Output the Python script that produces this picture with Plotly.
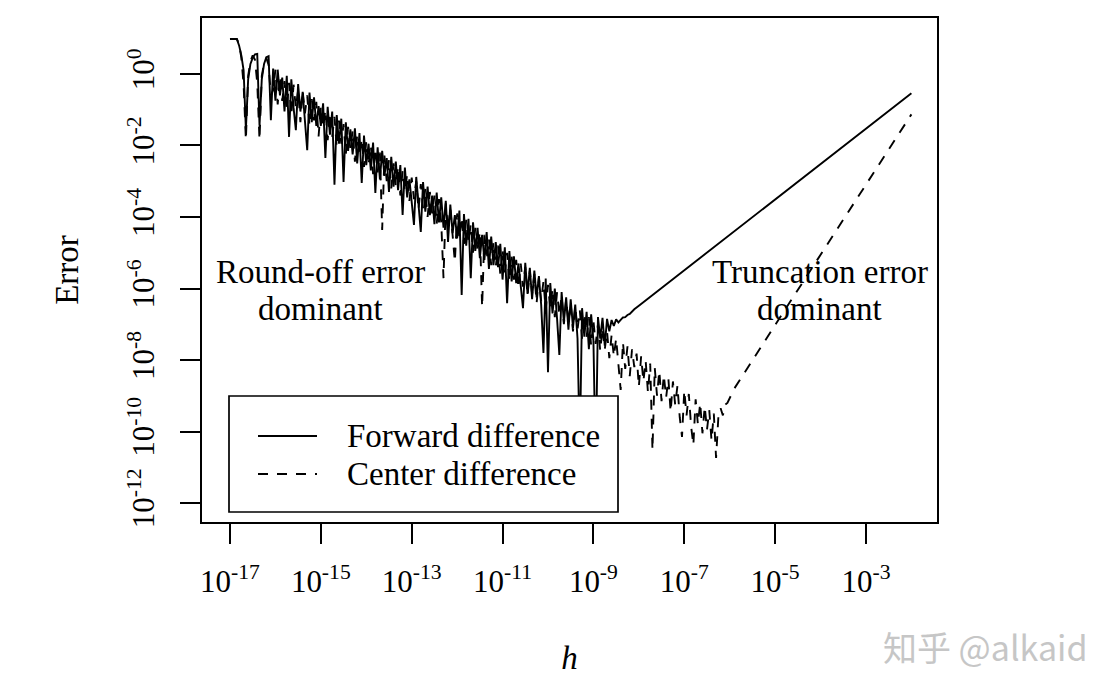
import numpy as np
import plotly.graph_objects as go

# ---------------- data (log10 values) ----------------
H_START = -17.0          # log10(h) of the first sample
H_STEP = 0.05            # log10 spacing of the sampled h values

fwd_noisy_log_err = [
    0.98, 0.98, 0.98, 0.98, 0.80, 0.52, 0.10, -1.55, -0.15, 0.28,
    0.45, 0.55, 0.56, -1.45, -0.15, 0.28, 0.47, 0.50, -1.29,
    0.15, -0.75, 0.12, -0.60, -0.10, -1.05, -0.05, -1.76, -0.15, -0.95,
    -1.57, -0.28, -1.05, -0.50, -1.20, -2.13, -0.52, -1.35, -0.65, -1.45,
    -0.90, -1.45, -0.82, -2.35, -0.92, -1.70, -1.05, -3.10, -1.15, -1.95,
    -1.25, -3.02, -1.35, -2.15, -1.55, -2.25, -1.52, -2.50, -1.65, -3.05,
    -1.72, -2.55, -1.95, -2.70, -1.92, -3.33, -2.05, -2.95, -2.15, -2.85,
    -2.35, -3.30, -2.32, -3.15, -2.45, -3.25, -2.55, -3.94, -2.62, -3.45,
    -2.95, -3.55, -4.22, -2.88, -3.70, -4.42, -3.02, -3.85, -3.15, -3.95,
    -3.40, -4.20, -3.32, -4.15, -3.45, -4.30, -3.55, -4.70, -3.65, -4.45,
    -3.95, -4.60, -3.82, -6.18, -3.92, -4.80, -4.05, -5.71, -4.15, -4.95,
    -4.30, -5.15, -4.50, -5.20, -4.42, -5.45, -4.55, -5.35, -4.70, -5.40,
    -4.75, -5.75, -4.85, -6.41, -4.95, -5.80, -5.10, -5.85, -5.30, -6.00,
    -6.55, -5.28, -6.15, -5.42, -6.30, -5.50, -6.25, -5.65, -6.45, -7.80,
    -5.72, -8.34, -5.85, -6.70, -6.00, -6.85, -7.86, -6.10, -6.95, -6.25,
    -7.15, -6.30, -7.10, -6.45, -7.40, -10.50, -6.55, -7.35, -6.65, -7.70,
    -6.72, -7.45, -11.00, -6.80, -7.40, -6.82, -7.60, -6.85, -7.20, -6.88,
    -7.05, -6.86, -6.95,
]
fwd_smooth_log_h = [-8.40, -8.35, -8.30, -8.25, -8.20, -8.10, -8.00,
                    -7.00, -6.00, -5.00, -4.00, -3.00, -2.00]
fwd_smooth_log_err = [-6.88, -6.81, -6.80, -6.74, -6.71, -6.58, -6.48,
                      -5.49, -4.50, -3.51, -2.52, -1.53, -0.54]

ctr_noisy_log_err = [
    0.98, 0.98, 0.98, 0.98, 0.85, 0.45, -0.30, -1.85, -0.05, 0.35,
    0.52, 0.40, -0.25, -1.85, -0.05, 0.30, 0.45, 0.25, -0.60,
    -0.45, 0.12, -0.85, -0.05, -0.75, -0.20, -1.00, -0.25, -1.15, -0.30,
    -0.95, -0.45, -1.35, -0.48, -1.10, -0.60, -1.45, -0.70, -1.30, -0.78,
    -1.75, -0.90, -1.50, -1.00, -1.85, -1.08, -1.75, -1.20, -2.05, -1.30,
    -1.95, -1.40, -2.25, -1.48, -2.10, -1.58, -2.45, -1.70, -2.30, -1.80,
    -2.60, -1.88, -2.55, -2.00, -2.80, -2.08, -2.75, -2.20, -4.36, -2.28,
    -3.00, -2.40, -3.20, -2.50, -3.15, -2.58, -3.40, -2.70, -3.30, -2.80,
    -3.55, -2.90, -3.50, -3.00, -3.80, -3.08, -3.75, -3.20, -4.00, -3.30,
    -3.90, -3.40, -4.20, -3.50, -4.15, -5.71, -3.62, -4.35, -3.75, -4.50,
    -5.26, -3.90, -4.60, -4.00, -4.75, -4.08, -4.70, -4.20, -5.00, -4.30,
    -4.95, -4.40, -6.52, -4.50, -5.20, -4.60, -5.35, -4.70, -5.40, -4.80,
    -5.60, -4.90, -5.55, -5.00, -5.80, -5.10, -5.75, -5.20, -6.00, -5.30,
    -5.95, -5.40, -6.20, -5.50, -6.15, -5.60, -6.40, -5.70, -6.35, -5.80,
    -6.60, -5.90, -6.55, -6.00, -6.80, -6.10, -6.75, -6.20, -7.00, -6.30,
    -6.95, -6.40, -7.20, -6.50, -7.15, -6.60, -7.40, -6.70, -7.35, -6.80,
    -7.60, -6.90, -7.55, -7.00, -7.75, -7.10, -7.70, -7.20, -7.95, -7.30,
    -7.90, -7.40, -8.10,
    -8.84, -7.50, -8.25, -7.62, -8.45, -7.70, -8.20, -7.82, -8.75, -7.90,
    -8.60, -8.02, -8.90, -8.10, -10.52, -8.22, -9.00, -8.30, -9.15, -8.42,
    -9.05, -8.52, -9.45, -8.60, -9.25, -8.72, -9.60, -10.15, -8.85, -9.55,
    -8.95, -9.85, -10.38, -9.10, -9.80, -9.20, -10.05, -9.30, -9.95, -9.40,
    -10.25, -9.50, -10.74, -9.60, -9.35, -9.55, -9.25, -9.20, -9.05,
]
ctr_smooth_log_h = [-5.90, -5.00, -4.00, -3.00, -2.00]
ctr_smooth_log_err = [-8.80, -7.02, -5.05, -3.08, -1.13]

x_tick_exps = [-17, -15, -13, -11, -9, -7, -5, -3]
y_tick_exps = [0, -2, -4, -6, -8, -10, -12]

series_names = ["Forward difference", "Center difference"]

# ---------------- build arrays ----------------
fwd_log_h = np.concatenate([H_START + H_STEP * np.arange(len(fwd_noisy_log_err)),
                            fwd_smooth_log_h])
fwd_log_e = np.concatenate([fwd_noisy_log_err, fwd_smooth_log_err])
ctr_log_h = np.concatenate([H_START + H_STEP * np.arange(len(ctr_noisy_log_err)),
                            ctr_smooth_log_h])
ctr_log_e = np.concatenate([ctr_noisy_log_err, ctr_smooth_log_err])

FONT = "Liberation Serif"
OFF = 8                              # page body margin of the html page
W, H = 1115 - 2 * OFF, 684 - 2 * OFF
L, R, T, B = 202, 937, 18, 522       # plot box in window pixels


def px(xp):
    return (xp - L) / (R - L)


def py(yp):
    return (B - yp) / (B - T)


DASH = "10px,9px"
LW = 1.9
FRAME_W = 1.7

fig = go.Figure()
fig.add_trace(go.Scatter(x=10.0 ** fwd_log_h, y=10.0 ** fwd_log_e, mode="lines",
                         name=series_names[0],
                         line=dict(color="black", width=LW)))
fig.add_trace(go.Scatter(x=10.0 ** ctr_log_h, y=10.0 ** ctr_log_e, mode="lines",
                         name=series_names[1],
                         line=dict(color="black", width=LW, dash=DASH)))

fig.update_layout(
    width=W, height=H,
    margin=dict(l=L - OFF, r=W - (R - OFF), t=T - OFF, b=H - (B - OFF), pad=0,
                autoexpand=False),
    paper_bgcolor="white", plot_bgcolor="white",
    showlegend=False,
    font=dict(family=FONT, size=31, color="black"),
)

fig.update_xaxes(
    type="log", range=[-17.616, -1.437],
    automargin=False,
    tickmode="array",
    tickvals=[10.0 ** e for e in x_tick_exps],
    ticktext=[f"10<sup>{e}</sup>" for e in x_tick_exps],
    ticks="outside", ticklen=20, tickwidth=FRAME_W, tickcolor="black",
    ticklabelstandoff=11,
    showline=True, linecolor="black", linewidth=FRAME_W, mirror=True,
    showgrid=False, zeroline=False,
    title=dict(text="<i>h</i>", font=dict(size=33), standoff=53),
)
fig.update_yaxes(
    type="log", range=[-12.531, 1.566],
    automargin=False,
    tickmode="array",
    tickvals=[10.0 ** e for e in y_tick_exps],
    ticktext=[f"10<sup>{e}</sup>" for e in y_tick_exps],
    tickangle=-90,
    ticks="outside", ticklen=20, tickwidth=FRAME_W, tickcolor="black",
    ticklabelstandoff=14,
    showline=True, linecolor="black", linewidth=FRAME_W, mirror=True,
    showgrid=False, zeroline=False,
    title=dict(text="Error", font=dict(size=33), standoff=33),
)

# ---------------- legend box (drawn like R's legend) ----------------
shapes = [
    dict(type="rect", xref="paper", yref="paper",
         x0=px(229), x1=px(618), y0=py(512), y1=py(396),
         fillcolor="white", line=dict(color="black", width=FRAME_W), layer="above"),
    dict(type="line", xref="paper", yref="paper",
         x0=px(258), x1=px(317), y0=py(436), y1=py(436),
         line=dict(color="black", width=LW), layer="above"),
    dict(type="line", xref="paper", yref="paper",
         x0=px(258), x1=px(317), y0=py(474), y1=py(474),
         line=dict(color="black", width=LW, dash=DASH), layer="above"),
]
fig.update_layout(shapes=shapes)

ann_font = dict(family=FONT, size=33, color="black")
annotations = [
    dict(text=series_names[0], x=px(345), y=py(436), xanchor="left", yanchor="middle"),
    dict(text=series_names[1], x=px(345), y=py(474), xanchor="left", yanchor="middle"),
    dict(text="Round-off error", x=px(320), y=py(272), xanchor="center", yanchor="middle"),
    dict(text="dominant", x=px(320), y=py(309), xanchor="center", yanchor="middle"),
    dict(text="Truncation error", x=px(820), y=py(272), xanchor="center", yanchor="middle"),
    dict(text="dominant", x=px(819), y=py(309), xanchor="center", yanchor="middle"),
]
for a in annotations:
    a.update(xref="paper", yref="paper", showarrow=False, font=ann_font)
annotations.append(dict(text="知乎 @alkaid", x=px(1090), y=py(646), xref="paper", yref="paper",
                        xanchor="right", yanchor="middle", showarrow=False,
                        font=dict(family="Noto Sans CJK SC", size=34, color="#c6c6c6")))
fig.update_layout(annotations=annotations)

fig.write_html("out.html")
